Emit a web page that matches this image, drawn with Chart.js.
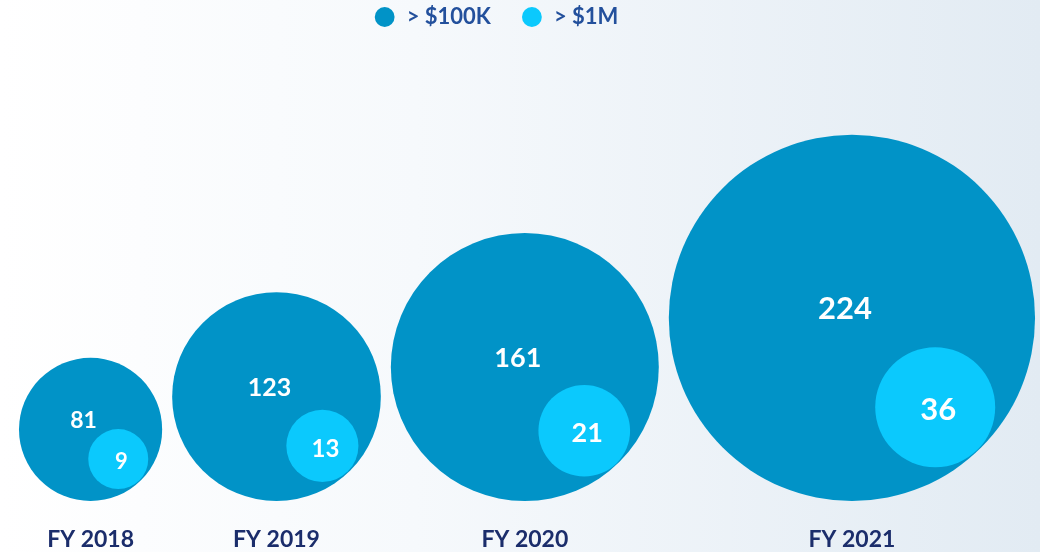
<!DOCTYPE html>
<html>
<head>
<meta charset="utf-8">
<script src="https://cdn.jsdelivr.net/npm/chart.js@4.4.1/dist/chart.umd.min.js"></script>
<style>
  html, body { margin: 0; padding: 0; }
  body {
    width: 1040px; height: 552px; overflow: hidden;
    background: linear-gradient(90deg, #ffffff 0%, #f6f9fc 40%, #e2ebf3 100%);
  }
  canvas { display: block; }
</style>
</head>
<body>
<canvas id="c" width="1040" height="552"></canvas>
<script>
const years = ['FY 2018', 'FY 2019', 'FY 2020', 'FY 2021'];
const over100k = [81, 123, 161, 224];
const over1m = [9, 13, 21, 36];
const seriesNames = ['> $100K', '> $1M'];

const BIG = '#0193c7';
const SMALL = '#0bc9fd';
const NAVY = '#1b2d6b';
const LEGEND_TEXT = '#23509c';
const FONT = 'Lato, "Open Sans", sans-serif';

// the slide sized its bubbles by eye, these two fits come close
const rBig = v => 8.4 + 0.78*v;
const rSmall = v => 10*Math.sqrt(v);

const BASE = 51;    // bottom of the big bubbles, units above canvas bottom
const LEFT = 19;
const GAP = 10;
const ANGLE = 47*Math.PI/180;  // small bubble sits in the lower right, touching inside

let cursor = LEFT;
const bigPts = over100k.map(v=>{
  let r = rBig(v);
  let x = cursor + r;
  cursor += 2*r + GAP;
  return {x, y: BASE + r, r, v};
});
const smallPts = over1m.map((v,i)=>{
  let b = bigPts[i];
  let r = rSmall(v);
  let d = b.r - r - 1;
  return {x: b.x + d*Math.cos(ANGLE), y: b.y - d*Math.sin(ANGLE), r, v};
});

// one unit = one pixel, whatever room the legend takes
const pixelUnits = (scale)=>{
  scale.min = 0;
  scale.max = scale.isHorizontal() ? scale.width : scale.height;
};

const labelPlugin = {
  id: 'bubbleLabels',
  afterDatasetsDraw(chart) {
    let {ctx} = chart;
    let xs = chart.scales.x;
    ctx.save();
    ctx.textAlign = 'center';
    ctx.textBaseline = 'middle';
    ctx.fillStyle = '#ffffff';
    chart.getDatasetMeta(0).data.forEach((el,i)=>{
      let r = bigPts[i].r;
      ctx.font = `bold ${Math.round(18 + 0.07*r)}px ${FONT}`;
      ctx.fillText(String(over100k[i]), el.x - 7, el.y - 9);
    });
    chart.getDatasetMeta(1).data.forEach((el,i)=>{
      let r = smallPts[i].r;
      ctx.font = `bold ${Math.round(13 + 0.3*r)}px ${FONT}`;
      ctx.fillText(String(over1m[i]), el.x + 3, el.y + 3);
    });
    ctx.fillStyle = NAVY;
    ctx.font = `bold 23px ${FONT}`;
    years.forEach((y,i)=>{
      ctx.fillText(y, xs.getPixelForValue(bigPts[i].x), 540);
    });
    ctx.restore();
  }
};

new Chart(document.getElementById('c'), {
  type: 'bubble',
  data: {
    datasets: [{
      label: seriesNames[0],
      data: bigPts,
      backgroundColor: BIG,
      borderWidth: 0,
      hoverRadius: 0,
      pointStyle: 'circle',
      clip: false,
      order: 2,
    }, {
      label: seriesNames[1],
      data: smallPts,
      backgroundColor: SMALL,
      borderWidth: 0,
      hoverRadius: 0,
      pointStyle: 'circle',
      clip: false,
      order: 1,
    }],
  },
  options: {
    responsive: false,
    animation: false,
    events: [],
    layout: { autoPadding: false, padding: { top: -24, right: 48, left: 0, bottom: 0 } },
    scales: {
      x: { display: false, bounds: 'data', afterDataLimits: pixelUnits },
      y: { display: false, bounds: 'data', afterDataLimits: pixelUnits },
    },
    plugins: {
      tooltip: { enabled: false },
      legend: {
        position: 'top',
        align: 'center',
        labels: {
          usePointStyle: true,
          boxHeight: 14,
          padding: 30,
          color: LEGEND_TEXT,
          font: { family: FONT, size: 22, weight: 'bold' },
          sort: (a,b)=>a.datasetIndex - b.datasetIndex,
        },
      },
    },
  },
  plugins: [labelPlugin],
});
</script>
</body>
</html>
